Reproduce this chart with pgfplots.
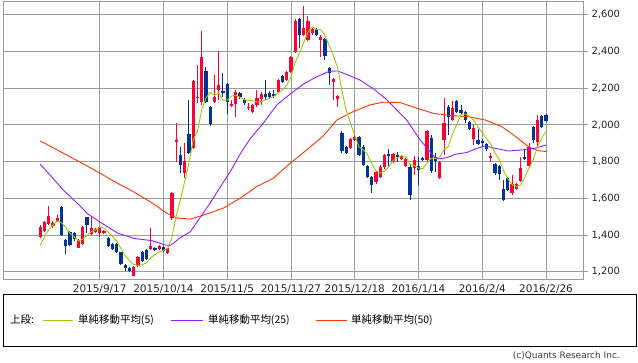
\documentclass[border=0pt]{standalone}
\usepackage{pgfplots}
\pgfplotsset{compat=1.18}
\usepackage{pgfplotstable}
\usepackage{fontspec}
\setmainfont{DejaVu Sans}
\newfontfamily\jp{Noto Sans CJK JP}
\definecolor{upred}{HTML}{FF0033}
\definecolor{downblue}{HTML}{003399}
\definecolor{maA}{HTML}{99CC00}
\definecolor{maB}{HTML}{9A1AFF}
\definecolor{maC}{HTML}{FF3300}
\definecolor{gridgray}{HTML}{9C9C9C}

\pgfplotstableread{
x o h l c
0 1391 1455 1385 1446
1 1422 1478 1418 1473
2 1459 1560 1455 1506
3 1448 1475 1440 1466
4 1473 1509 1470 1495
9 1331 1378 1328 1373
10 1350 1450 1345 1446
12 1404 1497 1400 1437
13 1419 1440 1412 1433
14 1413 1450 1391 1446
15 1410 1428 1405 1422
22 1179 1232 1175 1228
23 1233 1287 1228 1282
26 1324 1437 1320 1341
28 1324 1346 1320 1342
30 1301 1332 1297 1328
31 1491 1636 1485 1631
32 1910 2009 1800 1918
34 1737 1900 1709 1804
36 1877 2245 1870 2240
37 2145 2327 2118 2154
38 2124 2512 2109 2369
41 2124 2272 2118 2154
42 2191 2403 2136 2218
45 2105 2136 2098 2115
46 2115 2190 2045 2182
49 2091 2118 2080 2100
50 2069 2115 2063 2109
51 2106 2190 2100 2146
52 2140 2178 2109 2169
56 2181 2250 2175 2245
58 2245 2296 2240 2290
59 2290 2378 2285 2372
60 2399 2575 2392 2568
62 2490 2648 2485 2527
63 2463 2594 2458 2568
64 2499 2530 2492 2523
66 2463 2488 2372 2481
69 2234 2255 2136 2250
70 2143 2165 2100 2158
73 1873 1930 1868 1922
74 1918 1955 1912 1936
79 1690 1750 1680 1745
80 1718 1780 1712 1773
81 1769 1840 1760 1836
83 1800 1848 1795 1840
85 1815 1838 1808 1830
86 1777 1820 1770 1813
88 1764 1831 1728 1809
91 1809 1972 1800 1967
94 1709 1805 1705 1800
95 1918 2145 1836 2009
97 2027 2131 2020 2091
102 1924 2004 1891 1985
106 1825 1845 1800 1830
111 1628 1727 1620 1677
112 1651 1682 1645 1677
113 1695 1827 1690 1767
115 1775 1900 1770 1882
117 1909 2055 1880 2027
}\upcandles

\pgfplotstableread{
x o h l c
5 1555 1560 1395 1400
6 1373 1378 1295 1342
7 1415 1420 1340 1346
8 1410 1415 1370 1377
11 1497 1500 1410 1455
16 1382 1388 1338 1342
17 1350 1355 1318 1322
18 1350 1355 1305 1310
19 1306 1310 1237 1241
20 1237 1242 1205 1222
21 1219 1225 1200 1204
24 1306 1312 1255 1261
25 1317 1322 1265 1270
27 1328 1333 1315 1319
29 1337 1342 1308 1313
33 1837 1882 1737 1782
35 1951 2136 1840 1846
39 2294 2313 2118 2124
40 2100 2105 1995 2004
43 2182 2281 2150 2176
44 2222 2228 2058 2124
47 2173 2182 2140 2151
48 2136 2148 2110 2118
53 2169 2245 2136 2154
54 2172 2185 2140 2151
55 2169 2190 2145 2158
57 2267 2272 2230 2236
61 2577 2582 2418 2490
65 2521 2530 2484 2490
67 2467 2475 2354 2376
68 2309 2318 2218 2281
71 1958 1965 1845 1860
72 1882 1888 1843 1849
75 1933 1940 1830 1835
76 1880 1890 1775 1782
77 1777 1782 1710 1718
78 1718 1722 1631 1672
82 1840 1867 1773 1832
84 1835 1850 1800 1825
87 1773 1780 1591 1619
89 1777 1827 1673 1755
90 1818 1825 1805 1810
92 1927 1945 1740 1750
93 1825 1846 1746 1805
96 2100 2109 1945 2045
98 2131 2136 2065 2073
99 2082 2109 2058 2064
100 2069 2075 2009 2027
101 2018 2024 1970 1978
103 1918 1980 1890 1895
104 1913 1925 1880 1900
105 1895 1900 1860 1869
107 1786 1791 1730 1737
108 1778 1783 1700 1731
109 1651 1700 1588 1591
110 1709 1718 1640 1646
114 1827 1870 1810 1815
116 1991 1996 1900 1918
118 2051 2056 1985 1991
119 2055 2060 2015 2022
}\downcandles

\begin{document}
\begin{tikzpicture}[x=1bp,y=1bp]
\path[use as bounding box] (0,0) rectangle (638,362);
\begin{axis}[
  at={(3bp,83bp)}, anchor=south west,
  scale only axis, width=580bp, height=278bp,
  xmin=-8.75, xmax=127.7, ymin=1161, ymax=2675,
  axis line style={draw=gridgray, line width=0.9bp},
  grid=major, grid style={draw=gridgray, line width=0.9bp},
  xtick={14,29,44,59,74,89,104,119},
  xticklabels={2015/9/17,2015/10/14,2015/11/5,2015/11/27,2015/12/18,2016/1/14,2016/2/4,2016/2/26},
  ytick={1200,1400,1600,1800,2000,2200,2400,2600},
  yticklabels={{1,200},{1,400},{1,600},{1,800},{2,000},{2,200},{2,400},{2,600}},
  ytick pos=right, yticklabel pos=right,
  tick align=outside, major tick length=5bp,
  x tick style={draw=none},
  y tick style={draw=gridgray, line width=0.9bp},
  yticklabel style={font=\fontsize{10}{12}\selectfont, text=black!85},
  xticklabel style={font=\fontsize{10.5}{12}\selectfont, text=black!85, yshift=3bp},
  clip=true,
  candle/.style={draw=none, mark=none, forget plot, error bars/y dir=both, error bars/y explicit, error bars/error mark=none},
]
% wicks
\addplot[candle, error bars/error bar style={line width=1bp, draw=upred}]
  table[x=x, y expr={(\thisrow{h}+\thisrow{l})/2}, y error expr={(\thisrow{h}-\thisrow{l})/2}] {\upcandles};
\addplot[candle, error bars/error bar style={line width=1bp, draw=downblue}]
  table[x=x, y expr={(\thisrow{h}+\thisrow{l})/2}, y error expr={(\thisrow{h}-\thisrow{l})/2}] {\downcandles};
% bodies
\addplot[candle, error bars/error bar style={line width=3.3bp, draw=upred}]
  table[x=x, y expr={(\thisrow{o}+\thisrow{c})/2}, y error expr={max(abs(\thisrow{c}-\thisrow{o})/2,4)}] {\upcandles};
\addplot[candle, error bars/error bar style={line width=3.3bp, draw=downblue}]
  table[x=x, y expr={(\thisrow{o}+\thisrow{c})/2}, y error expr={max(abs(\thisrow{c}-\thisrow{o})/2,4)}] {\downcandles};
% MA50
\addplot[maC, line width=0.9bp, mark=none] coordinates {
(0,1913) (6.2,1837) (9.4,1797) (14.1,1737) (17.6,1690) (21.9,1637) (26.5,1573) (29.8,1519)
(32.2,1493) (35.3,1487) (39.2,1515) (43,1546) (47,1600) (50.9,1664) (54.8,1709) (58.8,1791)
(62.7,1864) (66.6,1940) (69.8,2027) (73.7,2073) (77.6,2109) (80.7,2124) (84.7,2122) (88.6,2091)
(92.7,2062) (96.8,2051) (100.7,2045) (104.7,2027) (108.6,1991) (112.4,1927) (114.8,1882)
(117.1,1860) (119.2,1855)};
% MA25
\addplot[maB, line width=0.9bp, mark=none] coordinates {
(0,1786) (2.3,1728) (5.4,1646) (9,1568) (11.2,1515) (14.5,1465) (18.3,1410) (22.3,1381)
(26.3,1370) (29.4,1346) (30.5,1343) (31.3,1355) (32.9,1385) (35.3,1418) (37.6,1495) (40,1575)
(42.3,1660) (44.7,1745) (47,1840) (49.4,1925) (52.5,2010) (55.7,2110) (58.8,2168) (61.9,2222)
(65,2262) (68,2292) (70,2294) (72.2,2274) (75.2,2245) (78.5,2195) (81.6,2136) (86.2,2027)
(89.4,1918) (92.7,1827) (93.7,1815) (95.7,1822) (97.6,1840) (100.4,1850) (102.3,1869)
(104.7,1886) (107,1873) (110.1,1858) (113.3,1864) (116.4,1873) (119,1891)};
% MA5
\addplot[maA, line width=0.9bp, mark=none] coordinates {
(0,1345) (1,1390) (2,1428) (3,1455) (4,1477) (5,1468) (6,1442) (7,1410) (8,1392) (9,1368)
(10,1377) (11,1399) (12,1418) (13,1429) (14,1443) (15,1439) (16,1416) (17,1393) (18,1368)
(19,1327) (20,1287) (21,1260) (22,1241) (23,1235) (24,1239) (25,1249) (26,1276) (27,1295)
(28,1307) (29,1317) (30,1329) (31,1387) (32,1506) (33,1594) (34,1693) (35,1796) (36,1918)
(37,1965) (38,2083) (39,2147) (40,2178) (41,2161) (42,2174) (43,2135) (44,2135) (45,2157)
(46,2163) (47,2150) (48,2138) (49,2133) (50,2132) (51,2125) (52,2128) (53,2136) (54,2146)
(55,2156) (56,2175) (57,2189) (58,2216) (59,2260) (60,2342) (61,2391) (62,2449) (63,2505)
(64,2535) (65,2520) (66,2518) (67,2488) (68,2430) (69,2376) (70,2309) (71,2185) (72,2080)
(73,2008) (74,1945) (75,1880) (76,1865) (77,1839) (78,1789) (79,1750) (80,1738) (81,1749)
(82,1772) (83,1805) (84,1821) (85,1833) (86,1828) (87,1785) (88,1779) (89,1765) (90,1761)
(91,1792) (92,1818) (93,1817) (94,1826) (95,1866) (96,1882) (97,1950) (98,2004) (99,2056)
(100,2060) (101,2047) (102,2025) (103,1990) (104,1957) (105,1925) (106,1896) (107,1846)
(108,1813) (109,1752) (110,1707) (111,1676) (112,1664) (113,1672) (114,1716) (115,1764)
(116,1812) (117,1882) (118,1927) (119,1968)};
\end{axis}
% legend box
\draw[line width=0.9bp, black] (3,16) rectangle (636,68);
\node[anchor=west, inner sep=0pt, font=\jp\fontsize{10.5}{12}\selectfont] at (10,42) {上段:};
\draw[maA, line width=1bp] (43,42) -- (73,42);
\node[anchor=west, inner sep=0pt, font=\jp\fontsize{10.5}{12}\selectfont] at (78,42) {単純移動平均(5)};
\draw[maB, line width=1bp] (171,42) -- (203,42);
\node[anchor=west, inner sep=0pt, font=\jp\fontsize{10.5}{12}\selectfont] at (208,42) {単純移動平均(25)};
\draw[maC, line width=1bp] (316,42) -- (347,42);
\node[anchor=west, inner sep=0pt, font=\jp\fontsize{10.5}{12}\selectfont] at (351,42) {単純移動平均(50)};
\node[anchor=east, inner sep=0pt, font=\fontsize{9}{11}\selectfont, text=black!75] at (620,6) {(c)Quants Research Inc.};
\end{tikzpicture}
\end{document}
